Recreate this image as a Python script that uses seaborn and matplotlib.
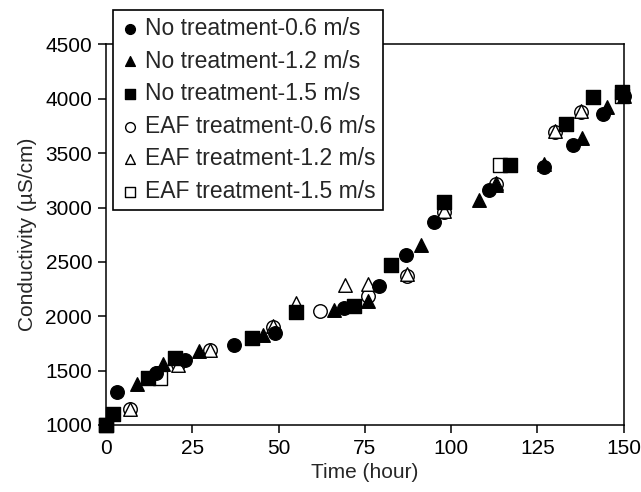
import matplotlib
matplotlib.use('Agg')
import matplotlib.pyplot as plt
import seaborn as sns

# ================= data =================
t_no_06 = [0, 3.1, 14.5, 22.9, 37.2, 49, 69.1, 79.2, 87, 95.1, 111.1, 127, 135.5, 144.1, 150]
c_no_06 = [1000, 1307, 1482, 1597, 1738, 1850, 2077, 2282, 2559, 2866, 3159, 3370, 3574, 3860, 4030]

t_no_12 = [0, 9.1, 16.4, 27, 45.4, 66.2, 76, 91.3, 108.2, 113, 127, 137.9, 145.1, 150]
c_no_12 = [1000, 1381, 1560, 1683, 1830, 2058, 2144, 2655, 3066, 3210, 3400, 3636, 3927, 4030]

t_no_15 = [0, 2.1, 12.3, 20, 42.2, 55.1, 72, 82.5, 98.1, 117.1, 133.2, 141.2, 149.5]
c_no_15 = [1000, 1104, 1436, 1615, 1800, 2036, 2098, 2473, 3051, 3389, 3765, 4019, 4060]

t_eaf_06 = [0, 7, 14.7, 21, 30.1, 48.5, 62, 76, 87.2, 98.1, 113, 130, 137.7, 149.5]
c_eaf_06 = [1000, 1145, 1480, 1560, 1690, 1905, 2052, 2190, 2375, 2958, 3220, 3697, 3881, 4030]

t_eaf_12 = [0, 7, 21, 30.1, 48.5, 55.1, 69.3, 76, 87.2, 98.1, 113, 130, 137.7, 149.5]
c_eaf_12 = [1000, 1145, 1550, 1690, 1910, 2119, 2291, 2298, 2385, 2965, 3225, 3700, 3885, 4030]

t_eaf_15 = [0, 15.7, 114.2, 149.5]
c_eaf_15 = [1000, 1436, 3389, 4030]

labels = ['No treatment-0.6 m/s', 'No treatment-1.2 m/s', 'No treatment-1.5 m/s',
          'EAF treatment-0.6 m/s', 'EAF treatment-1.2 m/s', 'EAF treatment-1.5 m/s']
x_ticks = [0, 25, 50, 75, 100, 125, 150]
y_ticks = [1000, 1500, 2000, 2500, 3000, 3500, 4000, 4500]

# ================= plot =================
sns.set_style('ticks')
plt.rcParams['font.family'] = ['Liberation Sans', 'DejaVu Sans']
plt.rcParams['axes.linewidth'] = 1.1

fig = plt.figure(figsize=(6.41, 4.92), dpi=100)
ax = fig.add_axes([0.1654, 0.1362, 0.8073, 0.7734])

# open markers first so the filled ones sit on top, as in the original
series = [
    (t_eaf_06, c_eaf_06, 'o', 'white', labels[3]),
    (t_eaf_12, c_eaf_12, '^', 'white', labels[4]),
    (t_eaf_15, c_eaf_15, 's', 'white', labels[5]),
    (t_no_06, c_no_06, 'o', 'black', labels[0]),
    (t_no_12, c_no_12, '^', 'black', labels[1]),
    (t_no_15, c_no_15, 's', 'black', labels[2]),
]
for x, y, m, fc, lab in series:
    sns.scatterplot(x=x, y=y, marker=m, s=95, facecolor=fc, edgecolor='black',
                    linewidth=1.0, label=lab, ax=ax, clip_on=False)

ax.set_xlim(0, 150)
ax.set_ylim(1000, 4500)
ax.set_xticks(x_ticks)
ax.set_yticks(y_ticks)
ax.tick_params(direction='out', length=6, width=1.1, labelsize=15, pad=4, colors='black')
ax.set_xlabel('Time (hour)', fontsize=15, labelpad=4)
ax.set_ylabel('Conductivity (\u00b5S/cm)', fontsize=15, labelpad=6)
for sp in ax.spines.values():
    sp.set_visible(True)
    sp.set_color('black')

handles, labs = ax.get_legend_handles_labels()
order = [labs.index(l) for l in labels]
leg = ax.legend([handles[i] for i in order], labels, loc='upper left',
                bbox_to_anchor=(113 / 641, 1 - 10 / 492), bbox_transform=fig.transFigure,
                fontsize=16.5, markerscale=0.72, frameon=True, fancybox=False,
                framealpha=1, edgecolor='black', handletextpad=0.2, handlelength=0.9,
                labelspacing=0.42, borderpad=0.3, borderaxespad=0)
leg.get_frame().set_linewidth(1.2)
leg.set_zorder(10)

fig.savefig('out.png', dpi=100)
